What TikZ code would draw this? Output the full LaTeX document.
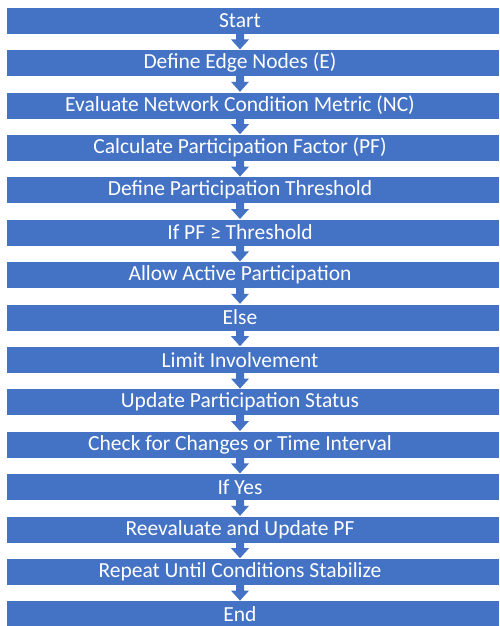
\documentclass[tikz,border=0pt]{standalone}
\usepackage{fontspec}
\setmainfont{Carlito}
\definecolor{stepblue}{HTML}{4472C4}
\begin{document}
\begin{tikzpicture}[x=1pt, y=1pt,
    stepbox/.style={draw=white, line width=0.6pt, fill=stepblue, minimum width=493pt, minimum height=27pt, inner sep=0pt, outer sep=0pt},
    steptext/.style={text=white, font=\fontsize{21.5}{24}\selectfont, inner sep=0pt},
    blockarrow/.style={fill=stepblue}]
  \useasboundingbox (0,0) rectangle (500,-626);

  \foreach \txt [count=\i] in {Start, Define Edge Nodes (E), Evaluate Network Condition Metric (NC),
      Calculate Participation Factor (PF), Define Participation Threshold, If PF ≥ Threshold,
      Allow Active Participation, Else, Limit Involvement, Update Participation Status,
      Check for Changes or Time Interval, If Yes, Reevaluate and Update PF,
      Repeat Until Conditions Stabilize, End} {
    \node[stepbox] (b\i) at (252.5, {-20.5-42.4*(\i-1)}) {};
    \node[steptext] (t\i) at ([xshift=-12.5pt]b\i.center) {\txt};
  }

  % down arrows between the steps
  \foreach \i [evaluate=\i as \j using int(\i+1)] in {1,...,14} {
    \fill[blockarrow] ([xshift=-16.5pt, yshift=0.8pt]b\i.south) -- ++(0,-6.2) -- ++(-5,0)
      -- ([xshift=-12.5pt]b\j.north) -- ++(9,10) -- ++(-5,0) -- ++(0,6.2) -- cycle;
  }
\end{tikzpicture}
\end{document}
